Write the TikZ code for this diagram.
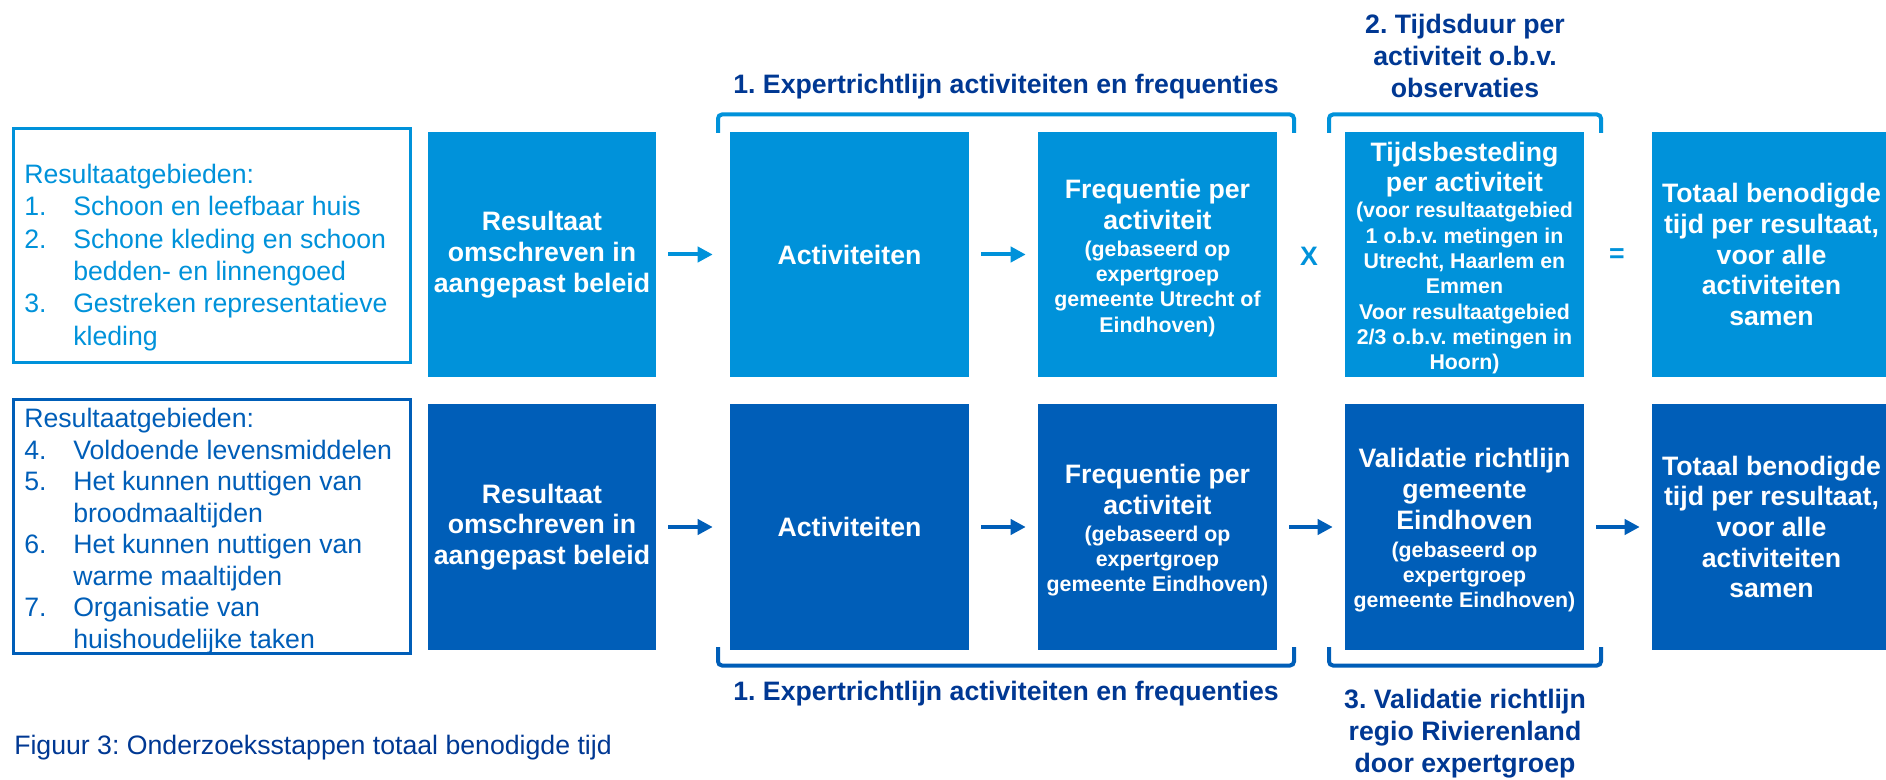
\documentclass[tikz,border=0pt]{standalone}
\usepackage{fontspec}
\setmainfont{Liberation Sans}
\usepackage{xcolor}
\usepackage{tikz}
\usetikzlibrary{arrows.meta}
\frenchspacing
\definecolor{lightblue}{RGB}{0,146,218}
\definecolor{darkblue}{RGB}{0,94,184}
\definecolor{navy}{RGB}{0,56,147}
\newcommand{\bigtxt}{\fontsize{20}{23}\selectfont}
\newcommand{\smblock}[1]{{\fontsize{16}{19}\selectfont\begin{tabular}[t]{@{}c@{}}#1\end{tabular}}}
\newcommand{\topstrut}{\rule{0pt}{22pt}}

\begin{document}
\begin{tikzpicture}[x=0.75pt,y=-0.75pt,
  stepbox/.style={minimum width=179.25pt, minimum height=184pt, inner sep=0pt, align=center, text=white, font=\bfseries\bigtxt},
  toprow/.style={stepbox, fill=lightblue},
  botrow/.style={stepbox, fill=darkblue},
  arr/.style={line width=3pt, -{Triangle[length=11.25pt,width=11.25pt]}, shorten <=9pt, shorten >=9pt},
  brace/.style={line width=3pt, rounded corners=3pt},
  lbl/.style={text=navy, align=center, font=\bfseries\fontsize{20}{24}\selectfont},
  areabox/.style={line width=2.25pt, minimum width=297.75pt, inner sep=0pt},
  areatxt/.style={anchor=west, inner sep=0pt, align=left}]
\useasboundingbox (0,0) rectangle (1886,780);
\def\ind{\makebox[36.75pt][l]}

\node[areabox, draw=lightblue, minimum height=175.5pt] (rga) at (212,245.5) {};
\node[areatxt, text=lightblue, font=\fontsize{20}{24.2}\selectfont] (rgatxt) at (24,257.5) {Resultaatgebieden:\\
\ind{1.}Schoon en leefbaar huis\\
\ind{2.}Schone kleding en schoon\\
\ind{}bedden- en linnengoed\\
\ind{3.}Gestreken representatieve\\
\ind{}kleding};
\node[areabox, draw=darkblue, minimum height=190.5pt] (rgb) at (212,526.5) {};
\node[areatxt, text=darkblue, font=\fontsize{20}{23.6}\selectfont] (rgbtxt) at (24,531) {Resultaatgebieden:\\
\ind{4.}Voldoende levensmiddelen\\
\ind{5.}Het kunnen nuttigen van\\
\ind{}broodmaaltijden\\
\ind{6.}Het kunnen nuttigen van\\
\ind{}warme maaltijden\\
\ind{7.}Organisatie van\\
\ind{}huishoudelijke taken};

\node[toprow, minimum width=171pt] (res1) at (542,254.5) {Resultaat\\omschreven in\\aangepast beleid};
\node[toprow] (act1) at (849.5,254.5) {Activiteiten};
\node[toprow] (freq1) at (1157.5,254.5) {\topstrut Frequentie per\\activiteit\\[-3pt]\smblock{(gebaseerd op\\expertgroep\\gemeente Utrecht of\\Eindhoven)}};
\node[toprow] (tijd1) at (1464.5,254.5) {\topstrut Tijdsbesteding\\per activiteit\\[-3.5pt]\smblock{(voor resultaatgebied\\1 o.b.v. metingen in\\Utrecht, Haarlem en\\Emmen\\Voor resultaatgebied\\2/3 o.b.v. metingen in\\Hoorn)}};
\node[toprow] (tot1) at (1771.5,254.5) {Totaal benodigde\\tijd per resultaat,\\voor alle\\activiteiten\\samen};

\node[botrow, minimum width=171pt] (res2) at (542,527) {Resultaat\\omschreven in\\aangepast beleid};
\node[botrow] (act2) at (849.5,527) {Activiteiten};
\node[botrow] (freq2) at (1157.5,527) {\topstrut Frequentie per\\activiteit\\[-3pt]\smblock{(gebaseerd op\\expertgroep\\gemeente Eindhoven)}};
\node[botrow] (val2) at (1464.5,527) {\topstrut Validatie richtlijn\\gemeente\\Eindhoven\\[-2pt]\smblock{(gebaseerd op\\expertgroep\\gemeente Eindhoven)}};
\node[botrow] (tot2) at (1771.5,527) {Totaal benodigde\\tijd per resultaat,\\voor alle\\activiteiten\\samen};

\draw[arr, lightblue, shorten >=12.75pt] (res1) -- (act1);
\draw[arr, lightblue] (act1) -- (freq1);
\draw[arr, darkblue, shorten >=12.75pt] (res2) -- (act2);
\foreach \a/\b in {act2/freq2, freq2/val2, val2/tot2}
  \draw[arr, darkblue] (\a) -- (\b);

\node[text=lightblue, font=\bfseries\bigtxt] (times) at (1309,256) {X};
\node[text=lightblue, font=\bfseries\bigtxt] (equals) at (1617,256) {=};

\foreach \l/\r in {718/1294, 1329/1601} {
  \draw[brace, lightblue] (\l,133) -- (\l,114.5) -- (\r,114.5) -- (\r,133);
  \draw[brace, darkblue] (\l,647) -- (\l,665.5) -- (\r,665.5) -- (\r,647);
}

\node[lbl] (exp1) at (1006,87) {1. Expertrichtlijn activiteiten en frequenties};
\node[lbl] (duur) at (1465,56) {2. Tijdsduur per\\activiteit o.b.v.\\observaties};
\node[lbl] (exp2) at (1006,694) {1. Expertrichtlijn activiteiten en frequenties};
\node[lbl] (valid) at (1465,734) {3. Validatie richtlijn\\regio Rivierenland\\door expertgroep};

\node[anchor=west, inner sep=0pt, text=navy, font=\fontsize{20}{24}\selectfont] (caption) at (14,748) {Figuur 3: Onderzoeksstappen totaal benodigde tijd};
\end{tikzpicture}
\end{document}
